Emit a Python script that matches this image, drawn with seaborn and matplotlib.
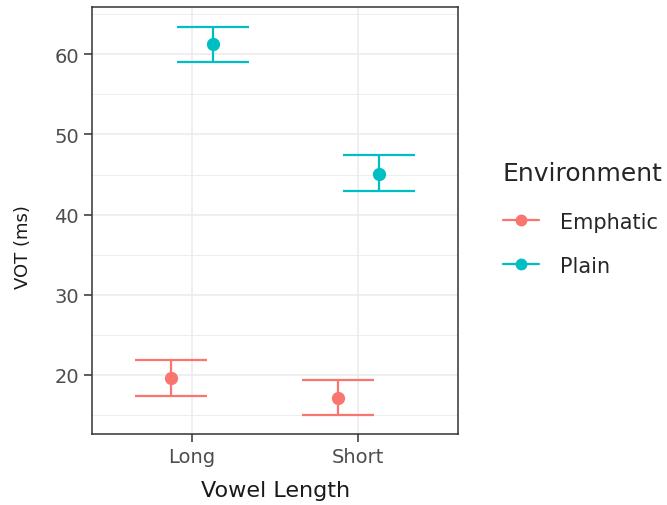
import matplotlib
matplotlib.use("Agg")
import matplotlib.pyplot as plt
from matplotlib.lines import Line2D
from matplotlib.ticker import MultipleLocator
import numpy as np
import pandas as pd
import seaborn as sns

# Mean VOT with error-bar bounds by vowel length and environment
vowel_length = ["Long", "Short"]
environments = ["Emphatic", "Plain"]
emphatic_mean = [19.6, 17.1]
emphatic_lower = [17.4, 15.0]
emphatic_upper = [21.8, 19.4]
plain_mean = [61.25, 45.1]
plain_lower = [59.1, 42.9]
plain_upper = [63.4, 47.4]

colors = {"Emphatic": "#F8766D", "Plain": "#00BFC4"}

df = pd.DataFrame({
    "Vowel Length": vowel_length * 2,
    "Environment": ["Emphatic"] * 2 + ["Plain"] * 2,
    "VOT": emphatic_mean + plain_mean,
    "lo": emphatic_lower + plain_lower,
    "hi": emphatic_upper + plain_upper,
})

sns.set_theme(style="white")
plt.rcParams["font.family"] = ["DejaVu Sans"]

fig = plt.figure(figsize=(6.67, 5.06), dpi=100)
ax = fig.add_axes([0.138, 0.140, 0.549, 0.844])

dodge = 0.25
sns.pointplot(data=df, x="Vowel Length", y="VOT", hue="Environment",
              order=vowel_length, hue_order=environments, palette=colors,
              dodge=dodge, linestyle="none", markers="o", markersize=7.5,
              errorbar=None, legend=False, ax=ax, zorder=4)

# error bars, dodged to sit under each point
offsets = {"Emphatic": -dodge / 2, "Plain": dodge / 2}
for env in environments:
    sub = df[df["Environment"] == env]
    xs = np.array([vowel_length.index(v) for v in sub["Vowel Length"]]) + offsets[env]
    y = sub["VOT"].to_numpy()
    yerr = np.vstack([y - sub["lo"].to_numpy(), sub["hi"].to_numpy() - y])
    ax.errorbar(xs, y, yerr=yerr, fmt="none", ecolor=colors[env],
                elinewidth=1.6, capsize=26, capthick=1.6, zorder=3)

ax.set_xlim(-0.6, 1.6)
ax.set_ylim(12.6, 65.9)
ax.yaxis.set_major_locator(MultipleLocator(10))
ax.yaxis.set_minor_locator(MultipleLocator(5))

ax.grid(True, which="major", color="#EBEBEB", linewidth=1.1, zorder=0)
ax.grid(True, which="minor", axis="y", color="#EBEBEB", linewidth=0.6, zorder=0)
ax.set_axisbelow(True)
for s in ax.spines.values():
    s.set_color("#333333")
    s.set_linewidth(1.1)

ax.tick_params(axis="both", which="major", length=5.5, width=1.1, color="#333333",
               labelsize=14, labelcolor="#4D4D4D", pad=4, left=True, bottom=True)
ax.tick_params(axis="y", which="minor", length=0)
ax.set_xlabel("Vowel Length", fontsize=16, color="#1A1A1A", labelpad=10)
ax.set_ylabel("VOT (ms)", fontsize=13, color="#1A1A1A")
ax.yaxis.set_label_coords(-0.188, 0.44)
ax.yaxis.label.set_va("center")

handles = [Line2D([0], [0], color=colors[e], marker="o", markersize=7.5,
                  linewidth=1.6) for e in environments]
leg = fig.legend(handles, environments, title="Environment", loc="upper left",
                 bbox_to_anchor=(0.738, 0.70), frameon=False, fontsize=15,
                 title_fontsize=18, handlelength=1.75, labelspacing=1.15,
                 handletextpad=1.0, borderpad=0)
leg._legend_box.align = "left"
leg._legend_box.sep = 19

fig.savefig("out.png", dpi=100)
